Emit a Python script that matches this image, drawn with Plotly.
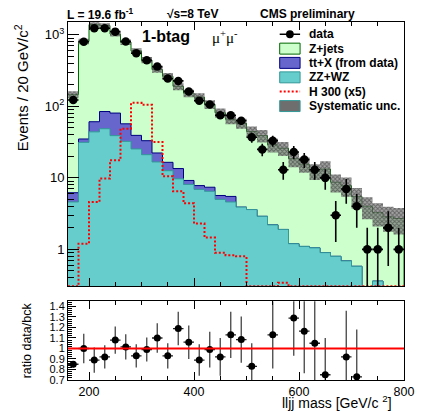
import numpy as np
import plotly.graph_objects as go

# ---- binning: lljj invariant mass, 20 GeV bins --------------------------
edges = np.arange(160, 801, 20)
centers = edges[:-1] + 10

# observed events per bin
data_counts = [123, 804, 1240, 1240, 1110, 805, 554, 440, 360, 245, 227, 162,
               120, 106, 75, 75, 63, 37, 25, 33, 13, 23, 18, 13, 10, 3, 7, 4,
               1, 1, 2, 1]

# background components per bin
zz_wz = [4.6, 31.4, 44, 48.7, 39, 32.4, 25.4, 21.1, 16.7, 12.6, 9.7, 8.1,
         6.9, 6.5, 5.0, 4.6, 3.9, 3.6, 2.9, 2.2, 1.9, 1.2, 1.1, 1.05, 0.9,
         0.8, 0.69, 0.58, 0, 0.36, 0, 0]
tt_x = [1.6, 3.6, 17, 36, 41.6, 24.6, 13.9, 12, 5.6, 3.9, 3.8, 1.1, 0.9, 0.9,
        0.67, 0.9, 0, 0, 0, 0, 0, 0, 0, 0, 0, 0, 0, 0, 0, 0, 0, 0]
z_jets = [140, 775, 1332, 1263, 947, 735, 557, 411, 305, 246.5, 177.5, 143.8,
          127.2, 99.6, 75.8, 60.5, 54.1, 41, 36.1, 26.8, 24.1, 17.3, 14.4,
          11.35, 12.4, 7.9, 7.1, 4.9, 4.0, 2.9, 2.85, 2.7]

# relative systematic uncertainty on the total background
sys_rel = [0.11, 0.09, 0.08, 0.08, 0.08, 0.09, 0.09, 0.10, 0.10, 0.11, 0.12,
           0.12, 0.13, 0.14, 0.15, 0.15, 0.16, 0.17, 0.20, 0.22, 0.22, 0.24,
           0.24, 0.25, 0.28, 0.28, 0.30, 0.32, 0.34, 0.36, 0.38, 0.40]

# Higgs signal, m_H = 300 GeV, scaled by 5
h300_x5 = [0, 1.2, 4.6, 9.8, 17.6, 48.7, 112, 105, 31.8, 10.5, 6.5, 4.4, 2.3,
           1.46, 0.9, 0.83, 0.8, 0, 0, 0, 0.34, 0, 0, 0, 0, 0, 0, 0, 0, 0, 0, 0]

# data / background ratio (None = outside the displayed range)
ratio_vals = [0.85, 1.00, 0.89, 0.92, 1.08, 1.015, 0.93, 0.99, 1.10, 0.93,
              1.19, 1.06, 0.89, 0.99, 0.92, 1.13, 1.085, 0.83, None, 1.13,
              None, 1.29, 1.165, 1.05, 0.75, None, 0.92, 0.73, None, None,
              None, None]
ratio_errs = [0.03, 0.14, 0.12, 0.11, 0.13, 0.12, 0.11, 0.115, 0.14, 0.12,
              0.16, 0.16, 0.15, 0.17, 0.18, 0.22, 0.22, 0.22, None, 0.32,
              None, 0.36, 0.40, 0.55, 0.35, None, 0.44, 0.45, None, None,
              None, None]

# ---- canvas geometry -----------------------------------------------------
W, H = 426, 411
ML, MR, MT, MB = 68, 12, 22, 30
PW, PH = W - ML - MR, H - MT - MB
Y_LOG_RANGE = [-0.516, 3.18]
FLOOR = 1e-3
FONT = "Liberation Sans"


def fx(px):
    return (px - ML) / PW


def fy(py):
    return (H - MB - py) / PH


def step_xy(values, floor=None):
    v = np.asarray(values, dtype=float)
    if floor is None:
        return edges, np.append(v, v[-1])
    v = np.where(v > 0, v, floor)
    x = np.concatenate([edges, [edges[-1], edges[0]]])
    y = np.concatenate([v, [v[-1], floor, floor]])
    return x, y


zz = np.array(zz_wz, dtype=float)
tt = np.array(tt_x, dtype=float)
zj = np.array(z_jets, dtype=float)
stack_tt = zz + tt
stack_all = zz + tt + zj
sys = stack_all * np.array(sys_rel)

fig = go.Figure()

# stacked backgrounds, drawn from the total downwards
for vals, fillc, linec in [(stack_all, "#ccffcc", "#006600"),
                           (stack_tt, "#6666cc", "#000080"),
                           (zz, "#66cccc", "#339999")]:
    x, y = step_xy(vals, FLOOR)
    fig.add_trace(go.Scatter(x=x, y=y, mode="lines", line_shape="hv",
                             line=dict(color=linec, width=1), fill="toself",
                             fillcolor=fillc, hoverinfo="skip",
                             xaxis="x", yaxis="y"))

# signal
h = np.array(h300_x5, dtype=float)
h = np.where(h > 0, h, 10 ** Y_LOG_RANGE[0])
xs, ys = step_xy(h)
fig.add_trace(go.Scatter(x=xs, y=ys, mode="lines", line_shape="hv",
                         line=dict(color="#ff0000", width=2, dash="2px,2px"),
                         xaxis="x", yaxis="y"))

# systematic band
xl, yl = step_xy(stack_all - sys)
xu, yu = step_xy(stack_all + sys)
fig.add_trace(go.Scatter(x=xl, y=yl, mode="lines", line_shape="hv",
                         line=dict(width=0), xaxis="x", yaxis="y"))
fig.add_trace(go.Scatter(x=xu, y=yu, mode="lines", line_shape="hv",
                         line=dict(width=0), fill="tonexty",
                         fillcolor="rgba(100,100,100,0.7)",
                         fillpattern=dict(shape="x", fgcolor="#222222",
                                          bgcolor="rgba(125,125,125,0.7)",
                                          size=3, solidity=0.5),
                         xaxis="x", yaxis="y"))

# data with Poisson errors
n = np.array(data_counts, dtype=float)
err = np.sqrt(n)
err_lo = np.minimum(err, n - FLOOR)
fig.add_trace(go.Scatter(x=centers, y=n, mode="markers",
                         marker=dict(color="black", size=8.5),
                         error_y=dict(type="data", array=err, arrayminus=err_lo,
                                      color="black", thickness=1.6, width=0),
                         error_x=dict(type="constant", value=10, color="black",
                                      thickness=1.6, width=0),
                         xaxis="x", yaxis="y"))

# ratio panel
fig.add_trace(go.Scatter(x=centers, y=ratio_vals, mode="markers",
                         marker=dict(color="black", size=7),
                         error_y=dict(type="data", array=ratio_errs,
                                      color="#444444", thickness=1.3, width=0),
                         error_x=dict(type="constant", value=10, color="#222222",
                                      thickness=1.3, width=0),
                         xaxis="x2", yaxis="y2"))
fig.add_shape(type="line", xref="x2", yref="y2", x0=160, x1=800, y0=1, y1=1,
              line=dict(color="#ff0000", width=2))

# ---- axes ----------------------------------------------------------------
common_x = dict(range=[160, 800], showline=True, linecolor="black",
                linewidth=1, mirror="ticks", ticks="inside", ticklen=8,
                tickcolor="black", tickvals=[200, 400, 600, 800],
                minor=dict(ticks="inside", ticklen=4, dtick=50, tick0=0,
                           tickcolor="black", showgrid=False),
                showgrid=False, zeroline=False)

minor_log = [m * 10 ** d for d in range(-1, 4) for m in range(2, 10)]
fig.update_layout(
    width=W, height=H,
    margin=dict(l=ML, r=MR, t=MT, b=MB),
    paper_bgcolor="white", plot_bgcolor="white",
    showlegend=False,
    font=dict(family=FONT, color="black"),
    xaxis=dict(domain=[0, 1], anchor="y", showticklabels=False, **common_x),
    yaxis=dict(domain=[fy(287), 1], anchor="x", type="log",
               range=Y_LOG_RANGE, showline=True, linecolor="black",
               linewidth=1, mirror=True, ticks="inside", ticklen=11,
               tickcolor="black", tickvals=[1, 10, 100, 1000],
               ticktext=["1", "10", "10<sup>2</sup>", "10<sup>3</sup>"],
               tickfont=dict(size=13, family=FONT),
               minor=dict(ticks="inside", ticklen=6, tickvals=minor_log,
                          tickcolor="black", showgrid=False),
               showgrid=False, zeroline=False),
    xaxis2=dict(domain=[0, 1], anchor="y2",
                tickfont=dict(size=12.5, family=FONT), **common_x),
    yaxis2=dict(domain=[0, fy(302)], anchor="x2", range=[0.7, 1.45],
                showline=True, linecolor="black", linewidth=1, mirror=True,
                ticks="inside", ticklen=8, tickcolor="black",
                tickvals=[0.7, 0.8, 0.9, 1.0, 1.1, 1.2, 1.3, 1.4],
                ticktext=["0.7", "0.8", "0.9", "1", "1.1", "1.2", "1.3", "1.4"],
                tickfont=dict(size=11, family=FONT),
                minor=dict(ticks="inside", ticklen=4, dtick=0.02, tick0=0.7,
                           tickcolor="black", showgrid=False),
                showgrid=False, zeroline=False),
)

# ---- text ----------------------------------------------------------------
def text(px, py, s, size, xanchor="left", bold=False, angle=0, family=FONT):
    fig.add_annotation(x=fx(px), y=fy(py), xref="paper", yref="paper",
                       text=f"<b>{s}</b>" if bold else s, showarrow=False,
                       xanchor=xanchor, yanchor="middle", textangle=angle,
                       font=dict(size=size, family=family, color="black"))


text(65, 14, "L = 19.6 fb<sup>-1</sup>", 12, bold=True)
text(168, 14, "√s=8 TeV", 12, bold=True)
text(264, 14, "CMS preliminary", 12, bold=True)
text(142, 37, "1-btag", 16, bold=True)
text(214, 37, "μ<sup>+</sup>μ<sup>-</sup>", 15, family="Liberation Serif")
text(20, 88, "Events / 20 GeV/c<sup>2</sup>", 15, xanchor="center", angle=-90)
text(26, 341, "ratio data/bck", 12.5, xanchor="center", angle=-90)
text(404, 403.5, "lljj mass [GeV/c <sup>2</sup>]", 14, xanchor="right")

# ---- legend --------------------------------------------------------------
leg_rows = [34.3, 48.7, 63, 77.5, 91.7, 106.3]
leg_labels = ["data", "Z+jets", "tt+X (from data)", "ZZ+WZ", "H 300 (x5)",
              "Systematic unc."]
for yy, lab in zip(leg_rows, leg_labels):
    text(314, yy, lab, 12, bold=True)

bx0, bx1 = 286, 307


def box(yy, fillc, linec):
    fig.add_shape(type="rect", xref="paper", yref="paper",
                  x0=fx(bx0), x1=fx(bx1), y0=fy(yy + 5.5), y1=fy(yy - 5.5),
                  fillcolor=fillc, line=dict(color=linec, width=1),
                  layer="above")


fig.add_shape(type="line", xref="paper", yref="paper", x0=fx(bx0), x1=fx(bx1),
              y0=fy(leg_rows[0]), y1=fy(leg_rows[0]),
              line=dict(color="black", width=1.5), layer="above")
fig.add_shape(type="circle", xref="paper", yref="paper",
              x0=fx(292.5), x1=fx(300.5), y0=fy(leg_rows[0] + 4),
              y1=fy(leg_rows[0] - 4), fillcolor="black",
              line=dict(color="black", width=0), layer="above")
box(leg_rows[1], "#ccffcc", "#006600")
box(leg_rows[2], "#6666cc", "#000080")
box(leg_rows[3], "#66cccc", "#339999")
fig.add_shape(type="line", xref="paper", yref="paper", x0=fx(bx0), x1=fx(bx1),
              y0=fy(leg_rows[4]), y1=fy(leg_rows[4]),
              line=dict(color="#ff0000", width=2, dash="2px,2px"), layer="above")
box(leg_rows[5], "#6e6e6e", "#339999")

fig.write_html("out.html")
